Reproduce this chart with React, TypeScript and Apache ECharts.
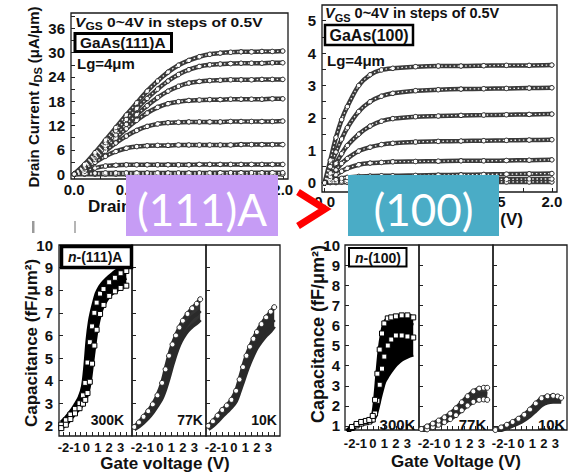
import React, { useEffect, useRef } from "react";
import * as echarts from "echarts";

const FONT = '"Liberation Sans", Arial, Helvetica, sans-serif';

// ---------- Top-left: GaAs(111)A output curves ----------
const tlVds = [0, 0.1, 0.2, 0.3, 0.4, 0.5, 0.6, 0.7, 0.8, 0.9, 1.0, 1.1, 1.2, 1.3, 1.4, 1.5, 1.6, 1.7, 1.8, 1.9, 2.0];
const tlVgs40 = [0, 2.4, 5.3, 8.4, 11.5, 14.6, 17.6, 20.5, 23.0, 25.2, 26.9, 28.1, 29.0, 29.6, 29.9, 30.1, 30.2, 30.2, 30.3, 30.3, 30.4];
const tlVgs35 = [0, 2.2, 4.9, 7.8, 10.7, 13.5, 16.2, 18.7, 21.0, 23.0, 24.6, 25.8, 26.6, 27.0, 27.2, 27.3, 27.4, 27.4, 27.4, 27.5, 27.5];
const tlVgs30 = [0, 2.0, 4.5, 7.1, 9.7, 12.3, 14.7, 16.9, 18.9, 20.5, 21.7, 22.5, 22.9, 23.1, 23.2, 23.3, 23.3, 23.3, 23.4, 23.4, 23.4];
const tlVgs25 = [0, 1.8, 4.1, 6.5, 8.9, 11.2, 13.3, 15.1, 16.5, 17.4, 17.9, 18.2, 18.3, 18.4, 18.4, 18.5, 18.5, 18.5, 18.5, 18.6, 18.6];
const tlVgs20 = [0, 1.6, 3.6, 5.7, 7.7, 9.4, 10.8, 11.8, 12.4, 12.7, 12.8, 12.9, 12.9, 12.9, 12.9, 13.0, 13.0, 13.0, 13.0, 13.0, 13.1];
const tlVgs15 = [0, 1.3, 2.9, 4.4, 5.6, 6.4, 6.8, 7.0, 7.1, 7.1, 7.2, 7.2, 7.2, 7.2, 7.2, 7.2, 7.3, 7.3, 7.3, 7.3, 7.3];
const tlVgs10 = [0, 0.7, 1.5, 2.0, 2.2, 2.3, 2.3, 2.3, 2.3, 2.3, 2.3, 2.3, 2.4, 2.4, 2.4, 2.4, 2.4, 2.4, 2.4, 2.4, 2.4];
const tlVgs05 = [0, 0.15, 0.25, 0.3, 0.3, 0.3, 0.3, 0.3, 0.3, 0.3, 0.3, 0.3, 0.3, 0.3, 0.35, 0.35, 0.35, 0.35, 0.35, 0.35, 0.35];
const tlVgs00 = [0, 0, 0, 0, 0, 0, 0, 0, 0, 0, 0, 0, 0, 0, 0, 0, 0, 0, 0, 0, 0];
const tlYLabels = [0, 6, 12, 18, 24, 30, 36];
const tlYTicks = [0, 3, 6, 9, 12, 15, 18, 21, 24, 27, 30, 33, 36, 39];
// x tick labels that are not hidden under the "(111)A" / "(100)" overlays
const tlXLabels = [0, 0.5, 2.0];
const trXLabels = [0, 1.5, 2.0];
const topXTicks = [0, 0.25, 0.5, 0.75, 1.0, 1.25, 1.5, 1.75, 2.0];

// ---------- Top-right: GaAs(100) output curves ----------
const trVds = [0, 0.05, 0.1, 0.15, 0.2, 0.3, 0.4, 0.5, 0.6, 0.8, 1.0, 1.2, 1.4, 1.6, 1.8, 2.0];
const trVgs40 = [0, 0.7, 1.4, 1.95, 2.35, 3.0, 3.33, 3.48, 3.53, 3.58, 3.6, 3.6, 3.61, 3.62, 3.62, 3.63];
const trVgs35 = [0, 0.5, 0.95, 1.35, 1.7, 2.2, 2.5, 2.67, 2.76, 2.84, 2.87, 2.89, 2.9, 2.91, 2.92, 2.93];
const trVgs30 = [0, 0.3, 0.6, 0.9, 1.15, 1.5, 1.75, 1.9, 1.98, 2.04, 2.06, 2.08, 2.09, 2.1, 2.11, 2.12];
const trVgs25 = [0, 0.2, 0.4, 0.6, 0.75, 0.98, 1.1, 1.18, 1.22, 1.26, 1.28, 1.29, 1.3, 1.31, 1.32, 1.33];
const trVgs20 = [0, 0.12, 0.25, 0.36, 0.45, 0.56, 0.61, 0.63, 0.65, 0.66, 0.67, 0.68, 0.68, 0.69, 0.7, 0.71];
const trVgs15 = [0, 0.05, 0.1, 0.14, 0.17, 0.2, 0.21, 0.22, 0.22, 0.23, 0.24, 0.25, 0.26, 0.27, 0.28, 0.29];
const trVgs10 = [0, 0.02, 0.04, 0.06, 0.07, 0.08, 0.09, 0.1, 0.1, 0.1, 0.1, 0.11, 0.11, 0.11, 0.12, 0.12];
const trVgs05 = [0, 0.01, 0.01, 0.02, 0.02, 0.02, 0.02, 0.02, 0.02, 0.02, 0.02, 0.02, 0.02, 0.03, 0.03, 0.03];
const trYLabels = [0, 1, 2, 3, 4, 5];
const trYTicks = [0, 0.5, 1, 1.5, 2, 2.5, 3, 3.5, 4, 4.5, 5];

// ---------- Bottom-left: n-(111)A C-V ----------
const bl300V = [-2.2, -1.8, -1.4, -1.0, -0.6, -0.3, -0.1, 0.1, 0.3, 0.5, 0.7, 0.9, 1.2, 1.5, 2.0, 2.5, 3.0, 3.5];
const bl300a = [2.15, 2.35, 2.6, 2.9, 3.25, 3.75, 4.6, 5.8, 6.6, 7.1, 7.5, 7.85, 8.15, 8.35, 8.6, 8.8, 9.0, 9.1];
const bl300b = [2.05, 2.25, 2.5, 2.75, 3.0, 3.35, 3.9, 4.8, 5.7, 6.4, 7.0, 7.45, 7.85, 8.05, 8.35, 8.55, 8.75, 8.85];
const bl300c = [2.0, 2.15, 2.4, 2.65, 2.9, 3.15, 3.5, 4.1, 4.9, 5.7, 6.4, 6.9, 7.4, 7.7, 8.05, 8.3, 8.45, 8.55];
const bl300d = [1.9, 2.05, 2.3, 2.55, 2.78, 2.98, 3.15, 3.45, 3.95, 4.75, 5.55, 6.25, 6.95, 7.35, 7.75, 7.95, 8.1, 8.2];
const blLowV = [-2.2, -1.8, -1.4, -1.0, -0.6, -0.2, 0.2, 0.5, 0.8, 1.1, 1.4, 1.7, 2.0, 2.4, 2.8, 3.2, 3.5];
const bl77a = [1.95, 2.15, 2.4, 2.65, 2.95, 3.35, 3.9, 4.5, 5.1, 5.6, 6.0, 6.35, 6.65, 6.95, 7.2, 7.4, 7.6];
const bl77b = [1.9, 2.05, 2.25, 2.5, 2.75, 3.1, 3.5, 4.0, 4.6, 5.1, 5.6, 5.95, 6.25, 6.55, 6.8, 6.95, 7.1];
const bl77c = [1.85, 1.98, 2.15, 2.35, 2.6, 2.9, 3.25, 3.65, 4.15, 4.7, 5.2, 5.6, 5.9, 6.2, 6.4, 6.55, 6.7];
const bl10a = [2.0, 2.2, 2.45, 2.7, 2.9, 3.15, 3.55, 4.05, 4.6, 5.1, 5.5, 5.85, 6.15, 6.5, 6.8, 7.05, 7.25];
const bl10b = [1.92, 2.1, 2.32, 2.55, 2.75, 2.98, 3.3, 3.75, 4.25, 4.75, 5.15, 5.5, 5.8, 6.1, 6.35, 6.55, 6.7];
const bl10c = [1.85, 2.0, 2.2, 2.42, 2.62, 2.82, 3.1, 3.5, 3.95, 4.4, 4.8, 5.15, 5.45, 5.75, 6.0, 6.2, 6.4];
const blYLabels = [2, 3, 4, 5, 6, 7, 8, 9, 10];

// ---------- Bottom-right: n-(100) C-V ----------
const br300V = [-2.2, -1.8, -1.4, -1.0, -0.6, -0.3, 0, 0.2, 0.4, 0.6, 0.8, 1.0, 1.3, 1.6, 2.0, 2.5, 3.0, 3.5];
const br300a = [0.78, 0.95, 1.1, 1.2, 1.25, 1.3, 1.5, 2.3, 3.6, 4.8, 5.6, 6.1, 6.35, 6.4, 6.45, 6.5, 6.5, 6.4];
const br300b = [0.75, 0.92, 1.06, 1.16, 1.22, 1.26, 1.38, 1.85, 2.8, 3.9, 4.8, 5.4, 5.9, 6.1, 6.2, 6.2, 6.1, 6.0];
const br300c = [0.72, 0.9, 1.03, 1.12, 1.18, 1.22, 1.32, 1.62, 2.25, 3.05, 3.85, 4.45, 5.0, 5.3, 5.5, 5.5, 5.45, 5.4];
const br300d = [0.7, 0.87, 1.0, 1.09, 1.14, 1.19, 1.27, 1.47, 1.85, 2.35, 2.8, 3.2, 3.5, 3.75, 4.05, 4.3, 4.45, 4.55];
const brLowV = [-2.2, -1.7, -1.2, -0.7, -0.2, 0.3, 0.8, 1.3, 1.8, 2.3, 2.8, 3.2, 3.5];
const br77a = [0.85, 0.98, 1.12, 1.27, 1.43, 1.62, 1.88, 2.18, 2.48, 2.72, 2.86, 2.9, 2.9];
const br77b = [0.78, 0.9, 1.02, 1.15, 1.3, 1.47, 1.7, 1.98, 2.25, 2.45, 2.58, 2.6, 2.58];
const br77c = [0.72, 0.83, 0.94, 1.06, 1.19, 1.34, 1.54, 1.78, 2.02, 2.2, 2.3, 2.32, 2.3];
const br10a = [0.8, 0.93, 1.06, 1.2, 1.36, 1.56, 1.82, 2.12, 2.38, 2.48, 2.5, 2.47, 2.4];
const br10b = [0.74, 0.86, 0.98, 1.1, 1.25, 1.43, 1.66, 1.94, 2.2, 2.32, 2.36, 2.34, 2.3];
const br10c = [0.68, 0.79, 0.9, 1.01, 1.14, 1.3, 1.5, 1.76, 2.02, 2.16, 2.2, 2.2, 2.2];
const brYLabels = [1, 2, 3, 4, 5, 6, 7, 8, 9, 10];

const cvXLabels = [-2, -1, 0, 1, 2, 3];
const cvXTicks = [-2, -1.5, -1, -0.5, 0, 0.5, 1, 1.5, 2, 2.5, 3, 3.5];
const cvYTicks = [1, 2, 3, 4, 5, 6, 7, 8, 9];

const pairs = (xs: number[], ys: number[]) => xs.map((x, i) => [x, ys[i]]);

function buildOption() {
  const gridBoxes = [
    { left: 71, top: 13, width: 217, height: 166 },
    { left: 322, top: 5, width: 235, height: 187 },
    { left: 59, top: 245, width: 73, height: 191 },
    { left: 132, top: 245, width: 74, height: 191 },
    { left: 206, top: 245, width: 74, height: 191 },
    { left: 345, top: 245, width: 74, height: 185 },
    { left: 419, top: 245, width: 74, height: 185 },
    { left: 493, top: 245, width: 74, height: 185 },
  ];
  const grid = gridBoxes.map((g) => ({
    ...g,
    show: true,
    borderColor: "#1a1a1a",
    borderWidth: 1.3,
    containLabel: false,
    outerBoundsMode: "none",
  }));

  const lbl = (custom: number[], fmt: any, margin: number, size: number, show = true) => ({
    show,
    customValues: custom,
    formatter: fmt,
    margin,
    fontSize: size,
    fontWeight: "bold",
    fontFamily: FONT,
    color: "#111",
    hideOverlap: false,
    showMinLabel: true,
    showMaxLabel: true,
  });
  const tick = (custom: number[]) => ({
    show: true,
    inside: true,
    length: 4,
    customValues: custom,
    lineStyle: { color: "#222", width: 1 },
  });
  const ax = (gi: number, min: number, max: number, label: any, ticks: number[]) => ({
    type: "value",
    gridIndex: gi,
    min,
    max,
    axisLine: { show: false, onZero: false },
    splitLine: { show: false },
    axisTick: tick(ticks),
    axisLabel: label,
  });
  const f1 = (v: number) => v.toFixed(1);
  const f0 = (v: number) => String(Math.round(v));

  const xAxis = [
    ax(0, -0.03, 2.05, lbl(tlXLabels, f1, 3, 15), topXTicks),
    ax(1, -0.023, 2.045, lbl(trXLabels, f1, 2, 15), topXTicks),
    ax(2, -2.4, 4.0, lbl(cvXLabels, f0, 5, 13), cvXTicks),
    ax(3, -2.4, 4.0, lbl(cvXLabels, f0, 5, 13), cvXTicks),
    ax(4, -2.4, 4.0, lbl(cvXLabels, f0, 5, 13), cvXTicks),
    ax(5, -2.4, 4.0, lbl(cvXLabels, f0, 7, 13), cvXTicks),
    ax(6, -2.4, 4.0, lbl(cvXLabels, f0, 7, 13), cvXTicks),
    ax(7, -2.4, 4.0, lbl(cvXLabels, f0, 7, 13), cvXTicks),
  ];
  const yAxis = [
    ax(0, -1.2, 39.8, lbl(tlYLabels, f0, 6, 15), tlYTicks),
    ax(1, -0.28, 5.48, lbl(trYLabels, f0, 6, 15), trYTicks),
    ax(2, 1.55, 10, lbl(blYLabels, f0, 6, 15), cvYTicks),
    ax(3, 1.55, 10, lbl(blYLabels, f0, 6, 15, false), cvYTicks),
    ax(4, 1.55, 10, lbl(blYLabels, f0, 6, 15, false), cvYTicks),
    ax(5, 0.8, 10, lbl(brYLabels, f0, 5, 15), cvYTicks),
    ax(6, 0.8, 10, lbl(brYLabels, f0, 5, 15, false), cvYTicks),
    ax(7, 0.8, 10, lbl(brYLabels, f0, 5, 15, false), cvYTicks),
  ];

  const series: any[] = [];
  const outCurve = (gi: number, xs: number[], ys: number[]) => {
    series.push({
      type: "line",
      xAxisIndex: gi,
      yAxisIndex: gi,
      data: pairs(xs, ys),
      smooth: 0.3,
      silent: true,
      symbol: "circle",
      symbolSize: 4.5,
      lineStyle: { color: "#3a3a3a", width: 4.5 },
      itemStyle: { color: "#fff", borderColor: "#222", borderWidth: 1 },
      z: 3,
    });
    series.push({
      type: "line",
      xAxisIndex: gi,
      yAxisIndex: gi,
      data: pairs(xs, ys),
      smooth: 0.3,
      silent: true,
      showSymbol: false,
      lineStyle: { color: "#f2f2f2", width: 1.3, type: [1.5, 2.5] },
      z: 4,
    });
  };
  [tlVgs00, tlVgs05, tlVgs10, tlVgs15, tlVgs20, tlVgs25, tlVgs30, tlVgs35, tlVgs40].forEach((ys) =>
    outCurve(0, tlVds, ys)
  );
  [trVgs05, trVgs10, trVgs15, trVgs20, trVgs25, trVgs30, trVgs35, trVgs40].forEach((ys) =>
    outCurve(1, trVds, ys)
  );

  // filled band between the outer measured sweeps
  const band = (gi: number, xs: number[], hi: number[], lo: number[], color: string) => {
    series.push({
      type: "custom",
      xAxisIndex: gi,
      yAxisIndex: gi,
      silent: true,
      clip: true,
      z: 2,
      data: [[xs[0], lo[0]]],
      renderItem: (_p: any, api: any) => {
        const pts: number[][] = [];
        for (let i = 0; i < xs.length; i++) pts.push(api.coord([xs[i], hi[i]]));
        for (let i = xs.length - 1; i >= 0; i--) pts.push(api.coord([xs[i], lo[i]]));
        return { type: "polygon", shape: { points: pts }, style: { fill: color } };
      },
    });
  };
  const cvCurve = (gi: number, xs: number[], ys: number[], kind: "sq" | "ci", marks: boolean) => {
    const dark = kind === "sq" ? "#000" : "#2a2a2a";
    series.push({
      type: "line",
      xAxisIndex: gi,
      yAxisIndex: gi,
      data: pairs(xs, ys),
      smooth: 0.3,
      silent: true,
      showSymbol: marks,
      symbol: kind === "sq" ? "rect" : "circle",
      symbolSize: 5,
      lineStyle: { color: dark, width: 4 },
      itemStyle: { color: "#fff", borderColor: dark, borderWidth: 1 },
      z: 3,
    });
  };
  band(2, bl300V, bl300a, bl300d, "#000");
  cvCurve(2, bl300V, bl300a, "sq", false);
  cvCurve(2, bl300V, bl300c, "sq", false);
  cvCurve(2, bl300V, bl300b, "sq", true);
  cvCurve(2, bl300V, bl300d, "sq", true);
  band(3, blLowV, bl77a, bl77c, "#333");
  cvCurve(3, blLowV, bl77b, "ci", false);
  cvCurve(3, blLowV, bl77c, "ci", false);
  cvCurve(3, blLowV, bl77a, "ci", true);
  band(4, blLowV, bl10a, bl10c, "#2a2a2a");
  cvCurve(4, blLowV, bl10b, "ci", false);
  cvCurve(4, blLowV, bl10c, "ci", false);
  cvCurve(4, blLowV, bl10a, "ci", true);
  band(5, br300V, br300a, br300d, "#000");
  cvCurve(5, br300V, br300d, "sq", false);
  cvCurve(5, br300V, br300c, "sq", true);
  cvCurve(5, br300V, br300b, "sq", false);
  cvCurve(5, br300V, br300a, "sq", true);
  band(6, brLowV, br77a, br77c, "#333");
  cvCurve(6, brLowV, br77b, "ci", false);
  cvCurve(6, brLowV, br77c, "ci", true);
  cvCurve(6, brLowV, br77a, "ci", true);
  band(7, brLowV, br10a, br10c, "#333");
  cvCurve(7, brLowV, br10b, "ci", false);
  cvCurve(7, brLowV, br10c, "ci", false);
  cvCurve(7, brLowV, br10a, "ci", true);

  const T = (x: number, y: number, text: string, size: number, extra: any = {}, el: any = {}) => ({
    type: "text",
    x,
    y,
    z: 60,
    ...el,
    style: {
      text,
      fontSize: size,
      fontWeight: "bold",
      fontFamily: FONT,
      fill: "#111",
      align: "left",
      verticalAlign: "middle",
      ...extra,
    },
  });
  const vgsRich = (size: number) => ({
    i: { fontStyle: "italic", fontWeight: "bold", fontSize: size, fontFamily: FONT, fill: "#111", verticalAlign: "middle", lineHeight: size + 6 },
    s: { fontWeight: "bold", fontSize: Math.round(size * 0.75), fontFamily: FONT, fill: "#111", verticalAlign: "bottom", lineHeight: Math.round(size * 0.75) },
    n: { fontWeight: "bold", fontSize: size, fontFamily: FONT, fill: "#111", verticalAlign: "middle", lineHeight: size + 6 },
  });
  const box = (x: number, y: number, w: number, h: number, lw: number) => ({
    type: "rect",
    z: 55,
    shape: { x, y, width: w, height: h },
    style: { fill: "#fff", stroke: "#000", lineWidth: lw },
  });
  const nRich = {
    i: { fontStyle: "italic", fontWeight: "bold", fontSize: 14, fontFamily: FONT, fill: "#111" },
    n: { fontWeight: "bold", fontSize: 14, fontFamily: FONT, fill: "#111" },
  };

  const graphic = [
    // top-left annotations
    T(75, 22, "{i|V}{s|GS}{n| 0~4V in steps of 0.5V}", 13, { rich: vgsRich(13) }, { scaleX: 1.2 }),
    box(75, 33.5, 96.5, 18, 3),
    T(80, 43, "GaAs(111)A", 14, {}, { scaleX: 1.1 }),
    T(77, 64, "Lg=4μm", 14, {}, { scaleX: 1.07 }),
    // top-right annotations
    T(325, 13, "{i|V}{s|GS}{n| 0~4V in steps of 0.5V}", 14.5, { rich: vgsRich(14.5) }),
    box(325, 25, 88, 20, 2.5),
    T(329.5, 35.5, "GaAs(100)", 16),
    T(327, 60, "Lg=4μm", 15),
    // top axis names
    T(33, 97, "{n|Drain Current }{i|I}{s|DS}{n| (μA/μm)}", 15, { rich: vgsRich(15), align: "center" }, { rotation: Math.PI / 2 }),
    T(88, 206, "Drain Voltage (V)", 17),
    T(523, 219, "Drain Voltage (V)", 17, { align: "right" }),
    // bottom axis names
    T(31.7, 343, "Capacitance (fF/μm²)", 17, { align: "center" }, { rotation: Math.PI / 2 }),
    T(318.3, 334, "Capacitance (fF/μm²)", 18, { align: "center" }, { rotation: Math.PI / 2 }),
    T(165, 463, "Gate voltage (V)", 17, { align: "center" }),
    T(456, 461.5, "Gate Voltage (V)", 17, { align: "center" }),
    // panel labels
    box(61.5, 246.5, 70, 21, 3.5),
    T(68, 257, "{i|n}{n|-(111)A}", 14, { rich: nRich }),
    box(349, 248, 57.5, 18.5, 2),
    T(355, 258, "{i|n}{n|-(100)}", 14, { rich: nRich }),
    T(107.5, 420, "300K", 14, { align: "center" }),
    T(190, 420, "77K", 14, { align: "center" }),
    T(264, 420, "10K", 14, { align: "center" }),
    T(397.5, 424, "300K", 15, { align: "center" }),
    T(472.5, 424, "77K", 15, { align: "center" }),
    T(551.7, 424, "10K", 15, { align: "center" }),
    // small marks on the left
    { type: "rect", z: 10, shape: { x: 32, y: 221, width: 2.5, height: 12 }, style: { fill: "#9a9a9a" } },
    { type: "rect", z: 10, shape: { x: 74, y: 221, width: 2, height: 12 }, style: { fill: "#b5b5b5" } },
    // overlay boxes
    { type: "rect", z: 80, shape: { x: 126, y: 175, width: 152, height: 61 }, style: { fill: "#C69CF5" } },
    {
      type: "text",
      z: 81,
      x: 202,
      y: 209,
      style: { text: "(111)A", fontSize: 44, fontFamily: "Lato, 'Open Sans', sans-serif", fill: "#fff", align: "center", verticalAlign: "middle" },
    },
    { type: "rect", z: 80, shape: { x: 348, y: 175, width: 151, height: 61 }, style: { fill: "#4AACC6" } },
    {
      type: "text",
      z: 81,
      x: 423.5,
      y: 209,
      style: { text: "(100)", fontSize: 44, fontFamily: "Lato, 'Open Sans', sans-serif", fill: "#fff", align: "center", verticalAlign: "middle" },
    },
    // red ">"
    {
      type: "polyline",
      z: 82,
      shape: { points: [[298, 192], [325, 209], [298, 226]] },
      style: { stroke: "#ff0000", lineWidth: 7, fill: null },
    },
  ];

  return {
    animation: false,
    backgroundColor: "#fff",
    grid,
    xAxis,
    yAxis,
    series,
    graphic: { elements: graphic },
  };
}

export default function App() {
  const ref = useRef<HTMLDivElement>(null);
  useEffect(() => {
    document.body.style.margin = "0";
    const chart = echarts.init(ref.current!, null, { renderer: "svg" });
    chart.setOption(buildOption() as any);
    return () => chart.dispose();
  }, []);
  return <div ref={ref} style={{ width: 577, height: 472 }} />;
}
